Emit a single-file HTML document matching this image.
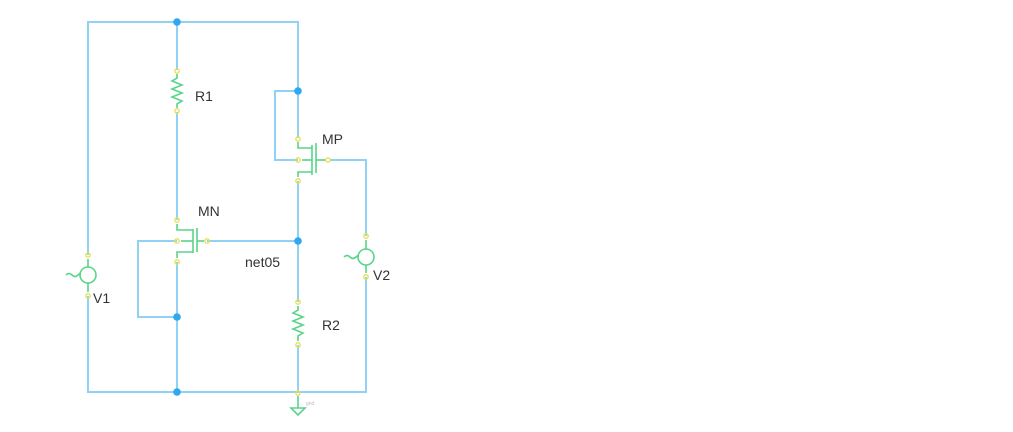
<!DOCTYPE html>
<html><head><style>body{margin:0;background:#fff}svg{display:block}</style></head><body>
<svg width="1013" height="432" viewBox="0 0 1013 432" xmlns="http://www.w3.org/2000/svg" font-family="Liberation Sans, sans-serif">
<g stroke="#8fd2f4" stroke-width="2" fill="none">
<polyline points="88,255 88,22 298,22 298,138"/>
<line x1="177" y1="22" x2="177" y2="70"/>
<line x1="177" y1="112" x2="177" y2="220"/>
<polyline points="298,91 275,91 275,160 298,160"/>
<polyline points="330,160 366,160 366,236"/>
<polyline points="366,277 366,392 88,392 88,296"/>
<line x1="298" y1="181" x2="298" y2="302"/>
<line x1="298" y1="345" x2="298" y2="392"/>
<polyline points="177,262 177,392"/>
<polyline points="177,317 138,317 138,241 177,241"/>
<line x1="207" y1="241" x2="298" y2="241"/>
</g>
<g fill="#2fa8f0">
<circle cx="177" cy="22" r="3.8"/><circle cx="298" cy="91" r="3.8"/><circle cx="298" cy="241" r="3.8"/>
<circle cx="177" cy="317" r="3.8"/><circle cx="177" cy="392" r="3.8"/>
</g>
<g stroke="#5ad48a" stroke-width="1.6" fill="none">
<polyline points="177,74 177,78 172,81 182,85 172,89 182,93 172,97 182,101 177,104 177,108"/>
<polyline points="298,306 298,310 293,313 303,317 293,321 303,325 293,329 303,333 298,336 298,341"/>
<polyline points="298,142 298,148 312,148"/><line x1="312" y1="145" x2="312" y2="175"/><line x1="316" y1="143" x2="316" y2="173"/>
<polyline points="298,177 298,172 312,172"/><line x1="302" y1="160" x2="312" y2="160"/><line x1="316" y1="160" x2="326" y2="160"/>
<polyline points="177,224 177,230 193,230"/><line x1="193" y1="229" x2="193" y2="253"/><line x1="197" y1="228" x2="197" y2="252"/>
<polyline points="177,258 177,252 193,252"/><line x1="181" y1="241" x2="193" y2="241"/><line x1="197" y1="241" x2="204" y2="241"/>
<circle cx="88" cy="275" r="8"/><line x1="88" y1="259" x2="88" y2="267"/><line x1="88" y1="283" x2="88" y2="292"/>
<path d="M66,275 q3,-3 6,0 t6,0 t2,0"/>
<circle cx="366" cy="257" r="8"/><line x1="366" y1="240" x2="366" y2="249"/><line x1="366" y1="265" x2="366" y2="273"/>
<path d="M344,257 q3,-3 6,0 t6,0 t2,0"/>
<line x1="298" y1="396" x2="298" y2="408"/><polygon points="291,408 305,408 298,415"/>
</g>
<g stroke="#e6de50" stroke-width="1.3" fill="none">
<circle cx="177" cy="71" r="2.2"/><circle cx="177" cy="111" r="2.2"/><circle cx="298" cy="139" r="2.2"/><circle cx="298" cy="160" r="2.2"/><circle cx="328" cy="160" r="2.2"/><circle cx="298" cy="181" r="2.2"/>
<circle cx="177" cy="220" r="2.2"/><circle cx="177" cy="241" r="2.2"/><circle cx="207" cy="241" r="2.2"/><circle cx="177" cy="262" r="2.2"/>
<circle cx="88" cy="255" r="2.2"/><circle cx="88" cy="296" r="2.2"/><circle cx="366" cy="236" r="2.2"/><circle cx="366" cy="277" r="2.2"/>
<circle cx="298" cy="302" r="2.2"/><circle cx="298" cy="345" r="2.2"/><circle cx="298" cy="393" r="2.2"/>
</g>
<g fill="#333" font-size="14">
<text x="195" y="101">R1</text><text x="322" y="144">MP</text><text x="198" y="216">MN</text>
<text x="245" y="267">net05</text><text x="373" y="280">V2</text><text x="93" y="303">V1</text><text x="322" y="330">R2</text>
</g>
<text x="306" y="405" font-size="5" fill="#bbb">gnd</text>
</svg>
</body></html>
